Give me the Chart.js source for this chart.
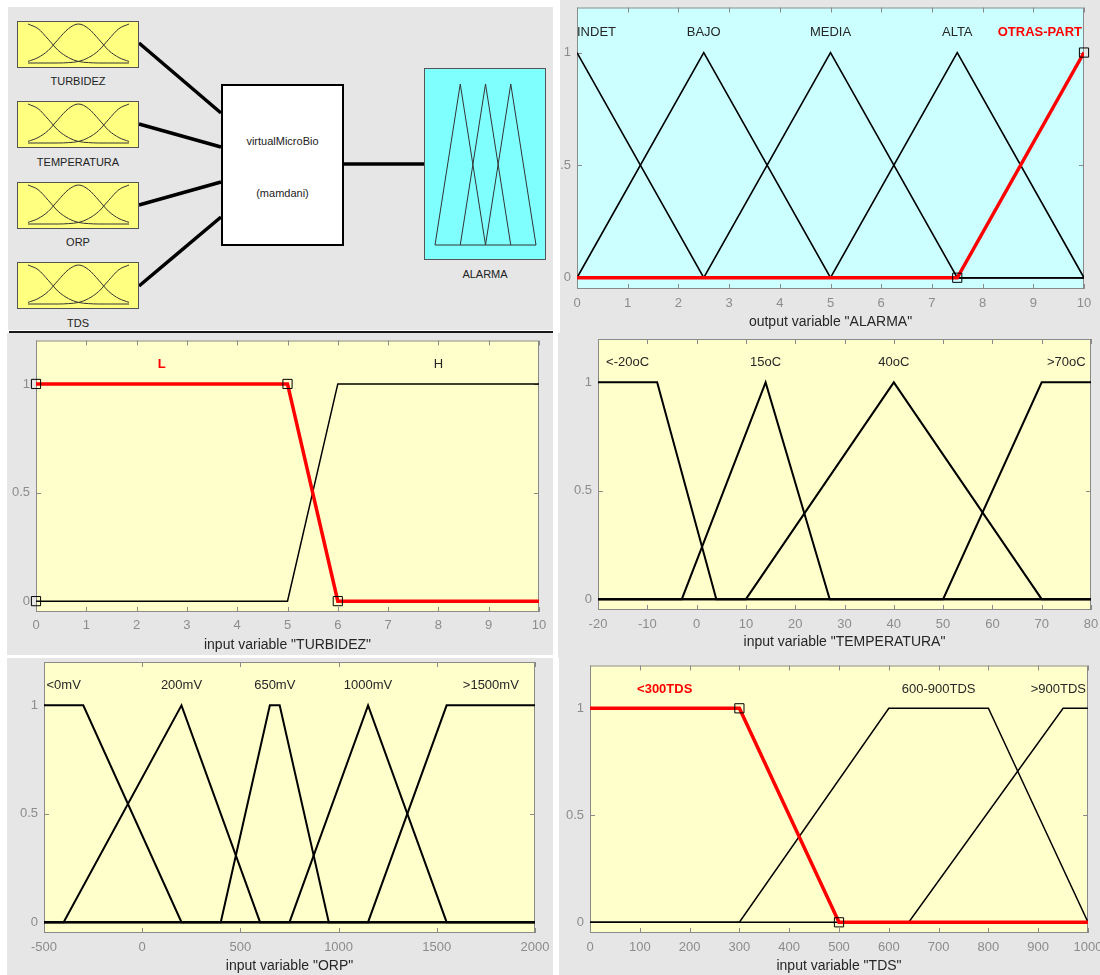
<!DOCTYPE html>
<html lang="es">
<head>
<meta charset="UTF-8">
<title>virtualMicroBio - funciones de pertenencia</title>
<style>
    body {
        margin: 0;
        background: #fff;
        font-family: "Liberation Sans", Arial, sans-serif;
    }
    #page { position: relative; width: 1100px; height: 975px; overflow: hidden; }
    .panel { position: absolute; background: #e6e6e6; overflow: hidden; }
    .panel canvas { position: absolute; left: 0; top: 0; }
    .inbox {
        position: absolute; left: 9px; width: 122px; height: 47px;
        box-sizing: border-box; border: 1px solid #555; background: #ffff80;
    }
    .inlabel, .txt {
        position: absolute; text-align: center; font-size: 11px;
        line-height: 14px; color: #222;
    }
    .inlabel { left: 9px; width: 122px; }
    .sys {
        position: absolute; left: 213px; top: 77px; width: 123px; height: 162px;
        box-sizing: border-box; border: 2.5px solid #000; background: #fff;
    }
    .outbox {
        position: absolute; left: 416px; top: 61px; width: 122px; height: 192px;
        box-sizing: border-box; border: 1px solid #555; background: #80ffff;
    }
</style>
</head>
<body>
<div id="page">

    <!-- FIS diagram -->
    <div class="panel" style="left:8px;top:7px;width:545px;height:323px;">
        <svg width="545" height="323" style="position:absolute;left:0;top:0">
            <g stroke="#000" stroke-width="3.5">
                <line x1="131" y1="36" x2="213" y2="106"/>
                <line x1="131" y1="117" x2="213" y2="140"/>
                <line x1="131" y1="198" x2="213" y2="175"/>
                <line x1="131" y1="279" x2="213" y2="210"/>
                <line x1="336" y1="157" x2="416" y2="157"/>
            </g>
        </svg>
        <div class="inbox" style="top:14px"><canvas id="icon0" width="120" height="45"></canvas></div>
        <div class="inlabel" style="top:67px">TURBIDEZ</div>
        <div class="inbox" style="top:94px"><canvas id="icon1" width="120" height="45"></canvas></div>
        <div class="inlabel" style="top:148px">TEMPERATURA</div>
        <div class="inbox" style="top:175px"><canvas id="icon2" width="120" height="45"></canvas></div>
        <div class="inlabel" style="top:228px">ORP</div>
        <div class="inbox" style="top:255px"><canvas id="icon3" width="120" height="45"></canvas></div>
        <div class="inlabel" style="top:309px">TDS</div>

        <div class="sys"></div>
        <div class="txt" style="left:213px;width:123px;top:127px">virtualMicroBio</div>
        <div class="txt" style="left:213px;width:123px;top:179px">(mamdani)</div>

        <div class="outbox"><canvas id="iconOut" width="120" height="190"></canvas></div>
        <div class="txt" style="left:416px;width:122px;top:260px">ALARMA</div>
    </div>
    <div style="position:absolute;left:9px;top:331px;width:544px;height:2px;background:#1a1a1a"></div>

    <div class="panel" style="left:560px;top:0;width:540px;height:333px;">
        <canvas id="alarma" width="540" height="333"></canvas>
    </div>
    <div class="panel" style="left:7px;top:333px;width:546px;height:322px;">
        <canvas id="turbidez" width="546" height="322"></canvas>
    </div>
    <div class="panel" style="left:558px;top:333px;width:542px;height:325px;">
        <canvas id="temperatura" width="542" height="325"></canvas>
    </div>
    <div class="panel" style="left:7px;top:658px;width:546px;height:317px;">
        <canvas id="orp" width="546" height="317"></canvas>
    </div>
    <div class="panel" style="left:559px;top:658px;width:541px;height:317px;">
        <canvas id="tds" width="541" height="317"></canvas>
    </div>
</div>

<script src="https://cdn.jsdelivr.net/npm/chart.js"></script>
<script>
    // ---- data ----

    // membership values on the y axis
    const yTickValues = [0, 0.5, 1];

    // output variable ALARMA (0..10)
    const alarmaNames = ['INDET', 'BAJO', 'MEDIA', 'ALTA', 'OTRAS-PART'];
    const alarmaX = [
        [0, 2.5, 10],
        [0, 2.5, 5, 10],
        [0, 2.5, 5, 7.5, 10],
        [0, 5, 7.5, 10],
        [0, 7.5, 10]
    ];
    const alarmaY = [
        [1, 0, 0],
        [0, 1, 0, 0],
        [0, 0, 1, 0, 0],
        [0, 0, 1, 0],
        [0, 0, 1]
    ];
    const alarmaMarkX = [7.5, 10];
    const alarmaMarkY = [0, 1];
    const alarmaTicks = [0, 1, 2, 3, 4, 5, 6, 7, 8, 9, 10];
    const alarmaYLabels = ['0', '.5', '1'];

    // input variable TURBIDEZ (0..10)
    const turbNames = ['L', 'H'];
    const turbX = [
        [0, 5, 6, 10],
        [0, 5, 6, 10]
    ];
    const turbY = [
        [1, 1, 0, 0],
        [0, 0, 1, 1]
    ];
    const turbMarkX = [0, 0, 5, 6];
    const turbMarkY = [0, 1, 1, 0];
    const turbTicks = [0, 1, 2, 3, 4, 5, 6, 7, 8, 9, 10];

    // input variable TEMPERATURA (-20..80)
    const tempNames = ['<-20oC', '15oC', '40oC', '>70oC'];
    const tempX = [
        [-20, -8, 4, 80],
        [-20, -3, 14, 27, 80],
        [-20, 10, 40, 70, 80],
        [-20, 50, 70, 80]
    ];
    const tempY = [
        [1, 1, 0, 0],
        [0, 0, 1, 0, 0],
        [0, 0, 1, 0, 0],
        [0, 0, 1, 1]
    ];
    const tempTicks = [-20, -10, 0, 10, 20, 30, 40, 50, 60, 70, 80];

    // input variable ORP (-500..2000)
    const orpNames = ['<0mV', '200mV', '650mV', '1000mV', '>1500mV'];
    const orpX = [
        [-500, -300, 200, 2000],
        [-500, -400, 200, 600, 2000],
        [-500, 400, 650, 700, 950, 2000],
        [-500, 750, 1150, 1550, 2000],
        [-500, 1150, 1550, 2000]
    ];
    const orpY = [
        [1, 1, 0, 0],
        [0, 0, 1, 0, 0],
        [0, 0, 1, 1, 0, 0],
        [0, 0, 1, 0, 0],
        [0, 0, 1, 1]
    ];
    const orpTicks = [-500, 0, 500, 1000, 1500, 2000];

    // input variable TDS (0..1000)
    const tdsNames = ['<300TDS', '600-900TDS', '>900TDS'];
    const tdsX = [
        [0, 300, 500, 1000],
        [0, 300, 600, 800, 1000],
        [0, 640, 950, 1000]
    ];
    const tdsY = [
        [1, 1, 0, 0],
        [0, 0, 1, 1, 0],
        [0, 0, 1, 1]
    ];
    const tdsMarkX = [300, 500];
    const tdsMarkY = [1, 0];
    const tdsTicks = [0, 100, 200, 300, 400, 500, 600, 700, 800, 900, 1000];

    // little icons in the FIS diagram
    const bellX = [0, 0.1, 0.2, 0.3, 0.4, 0.5, 0.6, 0.7, 0.8, 0.9, 1];
    const bellLow = [1, 0.88, 0.61, 0.32, 0.14, 0.04, 0.01, 0, 0, 0, 0];
    const bellMid = [0.04, 0.14, 0.32, 0.61, 0.88, 1, 0.88, 0.61, 0.32, 0.14, 0.04];
    const bellHigh = [0, 0, 0, 0, 0.01, 0.04, 0.14, 0.32, 0.61, 0.88, 1];
    const triX = [[0, 1, 2], [1, 2, 3], [2, 3, 4]];
    const triY = [0, 1, 0];
    const triBaseX = [0, 4];

    // ---- drawing ----

    const FONT = '"Liberation Sans", Arial, Helvetica, sans-serif';
    Chart.defaults.font.family = FONT;

    const pts = (xs, ys) => xs.map((x, i) => ({ x: x, y: ys[i] }));

    // MATLAB style box: coloured area, grey frame, inward ticks, MF names
    const mfAxes = {
        id: 'mfAxes',
        beforeDatasetsDraw(chart, args, opts) {
            const { ctx, chartArea: a, scales: { x, y } } = chart;
            ctx.save();
            ctx.fillStyle = opts.bg;
            ctx.fillRect(a.left, a.top, a.right - a.left, a.bottom - a.top);
            ctx.strokeStyle = '#8a8a8a';
            ctx.lineWidth = 1;
            ctx.strokeRect(a.left + 0.5, a.top + 0.5, a.right - a.left - 1, a.bottom - a.top - 1);
            ctx.beginPath();
            x.ticks.forEach(t => {
                const px = Math.round(x.getPixelForValue(t.value)) + 0.5;
                ctx.moveTo(px, a.bottom); ctx.lineTo(px, a.bottom - 5);
                ctx.moveTo(px, a.top); ctx.lineTo(px, a.top + 5);
            });
            y.ticks.forEach(t => {
                const py = Math.round(y.getPixelForValue(t.value)) + 0.5;
                ctx.moveTo(a.left, py); ctx.lineTo(a.left + 5, py);
                ctx.moveTo(a.right, py); ctx.lineTo(a.right - 5, py);
            });
            ctx.stroke();
            ctx.restore();
        },
        afterDatasetsDraw(chart, args, opts) {
            const { ctx, chartArea: a, scales: { x, y } } = chart;
            ctx.save();
            ctx.textAlign = 'center';
            ctx.textBaseline = 'middle';
            opts.names.forEach((name, i) => {
                const sel = i === opts.selected;
                ctx.font = (sel ? 'bold ' : '') + '13px ' + FONT;
                ctx.fillStyle = sel ? '#ff0000' : '#262626';
                // centre of the plateau where membership is 1
                const top = opts.xs[i].filter((v, k) => opts.ys[i][k] === 1);
                const cx0 = x.getPixelForValue((Math.min(...top) + Math.max(...top)) / 2);
                const w = ctx.measureText(name).width;
                const cx = Math.min(Math.max(cx0, a.left + w / 2), a.right - 2 - w / 2);
                ctx.fillText(name, cx, y.getPixelForValue(1.09));
            });
            ctx.restore();
        }
    };

    function mfChart(id, v, g) {
        const datasets = [];
        if (v.markX) {
            datasets.push({
                data: pts(v.markX, v.markY),
                showLine: false,
                pointStyle: 'rect',
                pointRadius: 6.5,
                pointBorderWidth: 1,
                pointBorderColor: '#000',
                pointBackgroundColor: 'rgba(0,0,0,0)',
                clip: false
            });
        }
        const order = v.names.map((n, i) => i);
        if (v.selected >= 0) {
            order.splice(v.selected, 1);
            order.unshift(v.selected);
        }
        order.forEach(i => {
            const sel = i === v.selected;
            datasets.push({
                data: pts(v.xs[i], v.ys[i]),
                showLine: true,
                pointRadius: 0,
                borderColor: sel ? '#ff0000' : '#000',
                borderWidth: sel ? 3.5 : g.lw
            });
        });

        return new Chart(document.getElementById(id), {
            type: 'scatter',
            data: { datasets },
            options: {
                responsive: false,
                animation: false,
                events: [],
                layout: { padding: { left: 0, top: g.top, right: g.right, bottom: 0 } },
                plugins: {
                    legend: { display: false },
                    tooltip: { enabled: false },
                    mfAxes: { bg: g.bg, names: v.names, xs: v.xs, ys: v.ys, selected: v.selected }
                },
                scales: {
                    x: {
                        type: 'linear',
                        min: v.ticks[0],
                        max: v.ticks[v.ticks.length - 1],
                        afterBuildTicks: s => { s.ticks = v.ticks.map(value => ({ value })); },
                        afterFit: s => { s.height = g.xh; s.paddingLeft = 0; s.paddingRight = 0; },
                        grid: { display: false, drawTicks: false },
                        border: { display: false },
                        ticks: {
                            autoSkip: false, maxRotation: 0, padding: g.tp,
                            color: '#8c8c8c', font: { size: 13 },
                            callback: (val) => String(val)
                        },
                        title: {
                            display: true, text: v.title, color: '#262626',
                            font: { size: 14 }, padding: { top: 0, bottom: g.tb }
                        }
                    },
                    y: {
                        type: 'linear',
                        min: -0.05,
                        max: 1.2,
                        afterBuildTicks: s => { s.ticks = yTickValues.map(value => ({ value })); },
                        afterFit: s => { s.width = g.yw; s.paddingTop = 0; s.paddingBottom = 0; },
                        grid: { display: false, drawTicks: false },
                        border: { display: false },
                        ticks: {
                            padding: 6, color: '#8c8c8c', font: { size: 13 },
                            callback: (val, i) => v.yLabels[i]
                        }
                    }
                }
            },
            plugins: [mfAxes]
        });
    }

    const yLabels = ['0', '0.5', '1'];

    mfChart('alarma', {
        names: alarmaNames, xs: alarmaX, ys: alarmaY, selected: 4,
        markX: alarmaMarkX, markY: alarmaMarkY, ticks: alarmaTicks,
        yLabels: alarmaYLabels, title: 'output variable "ALARMA"'
    }, { bg: '#ccffff', yw: 17, top: 7, right: 16, xh: 44, tp: 7, tb: 2, lw: 1.6 });

    mfChart('turbidez', {
        names: turbNames, xs: turbX, ys: turbY, selected: 0,
        markX: turbMarkX, markY: turbMarkY, ticks: turbTicks,
        yLabels: yLabels, title: 'input variable "TURBIDEZ"'
    }, { bg: '#ffffcc', yw: 29, top: 3, right: 14, xh: 43, tp: 6, tb: 1, lw: 1.5 });

    mfChart('temperatura', {
        names: tempNames, xs: tempX, ys: tempY, selected: -1,
        ticks: tempTicks, yLabels: yLabels, title: 'input variable "TEMPERATURA"'
    }, { bg: '#ffffcc', yw: 40, top: 6, right: 9, xh: 48, tp: 7, tb: 7, lw: 2 });

    mfChart('orp', {
        names: orpNames, xs: orpX, ys: orpY, selected: -1,
        ticks: orpTicks, yLabels: yLabels, title: 'input variable "ORP"'
    }, { bg: '#ffffcc', yw: 37, top: 4, right: 18, xh: 42, tp: 7, tb: 0, lw: 2 });

    mfChart('tds', {
        names: tdsNames, xs: tdsX, ys: tdsY, selected: 0,
        markX: tdsMarkX, markY: tdsMarkY, ticks: tdsTicks,
        yLabels: yLabels, title: 'input variable "TDS"'
    }, { bg: '#ffffcc', yw: 31, top: 2, right: 12, xh: 42, tp: 7, tb: 0, lw: 1.5 });

    // icons of the FIS diagram
    function iconChart(id, datasets, xMax, pad) {
        return new Chart(document.getElementById(id), {
            type: 'scatter',
            data: { datasets },
            options: {
                responsive: false,
                animation: false,
                events: [],
                layout: { padding: pad },
                plugins: { legend: { display: false }, tooltip: { enabled: false } },
                scales: {
                    x: { display: false, min: 0, max: xMax },
                    y: { display: false, min: 0, max: 1 }
                }
            }
        });
    }

    const iconLine = { showLine: true, pointRadius: 0, borderColor: '#333', borderWidth: 1, clip: 2 };

    ['icon0', 'icon1', 'icon2', 'icon3'].forEach(id => {
        iconChart(id, [bellLow, bellMid, bellHigh].map(ys => Object.assign({
            data: pts(bellX, ys), cubicInterpolationMode: 'monotone'
        }, iconLine)), 1, { left: 10, right: 9, top: 2, bottom: 4 });
    });

    const outSets = triX.map(xs => Object.assign({ data: pts(xs, triY) }, iconLine));
    outSets.push(Object.assign({ data: pts(triBaseX, [0, 0]) }, iconLine));
    iconChart('iconOut', outSets, 4, { left: 10, right: 9, top: 15, bottom: 14 });
</script>
</body>
</html>
